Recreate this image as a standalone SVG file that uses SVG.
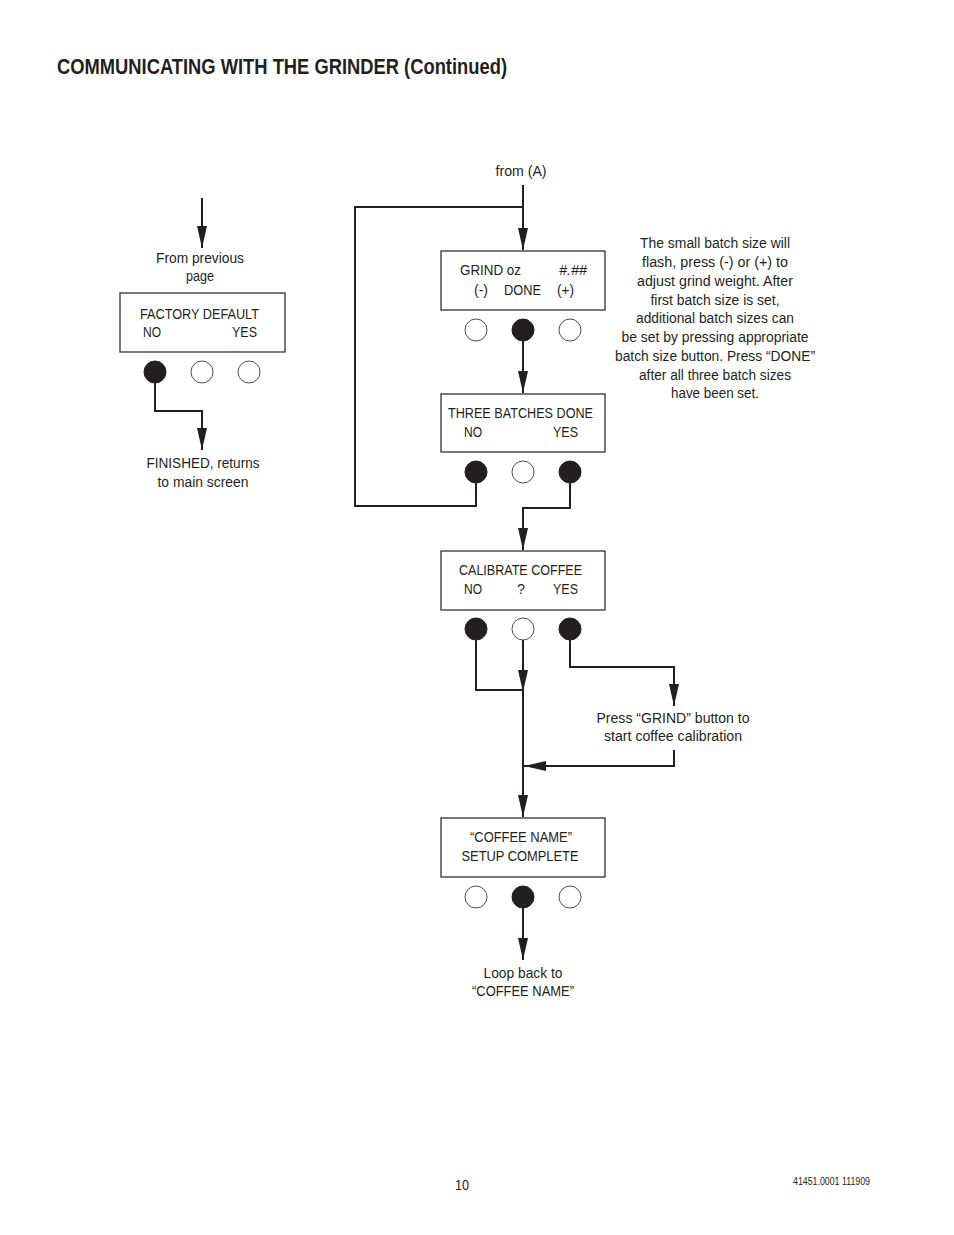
<svg xmlns="http://www.w3.org/2000/svg" width="954" height="1235" viewBox="0 0 954 1235">
<defs>
<style>
text{font-family:"Liberation Sans",Arial,sans-serif;fill:#231f20;font-size:15.5px}
.c{text-anchor:middle}
.box{fill:#fff;stroke:#231f20;stroke-width:1.2}
.on{fill:#231f20;stroke:#231f20;stroke-width:1}
.off{fill:#fff;stroke:#231f20;stroke-width:0.8}
.ln{fill:none;stroke:#231f20;stroke-width:2}
.arr{marker-end:url(#ah)}
</style>
<marker id="ah" markerUnits="userSpaceOnUse" markerWidth="24" markerHeight="12" refX="22" refY="5" orient="auto">
<path d="M0,0 L22,5 L0,10 z" fill="#231f20"/>
</marker>
</defs>
<rect width="954" height="1235" fill="#fff"/>
<text x="57" y="74" style="font-size:21.5px;font-weight:bold" textLength="450" lengthAdjust="spacingAndGlyphs">COMMUNICATING WITH THE GRINDER (Continued)</text>

<g id="connectors">
<path class="ln arr" d="M202,198 V248"/>
<path class="ln arr" d="M155,383 V411 H202 V450"/>
<path class="ln arr" d="M523,185 V250"/>
<path class="ln" d="M523,207 H355 V506 H476 V483"/>
<path class="ln arr" d="M523,341 V393"/>
<path class="ln arr" d="M570,483 V508 H523 V550"/>
<path class="ln" d="M476,640 V690 H523"/>
<path class="ln arr" d="M523,640 V692"/>
<path class="ln arr" d="M523,690 V817"/>
<path class="ln arr" d="M570,640 V667 H674 V706"/>
<path class="ln arr" d="M674,750 V766 H524"/>
<path class="ln arr" d="M523,908 V960"/>
</g>

<g id="from-previous">
<text class="c" x="200" y="263" textLength="88" lengthAdjust="spacingAndGlyphs">From previous</text>
<text class="c" x="200" y="281" textLength="28" lengthAdjust="spacingAndGlyphs">page</text>
</g>

<g id="factory-default">
<rect class="box" x="120" y="293" width="165" height="59"/>
<text x="140" y="319" textLength="119" lengthAdjust="spacingAndGlyphs">FACTORY DEFAULT</text>
<text x="143" y="337" textLength="18" lengthAdjust="spacingAndGlyphs">NO</text>
<text x="232" y="337" textLength="25" lengthAdjust="spacingAndGlyphs">YES</text>
<circle class="on" cx="155" cy="372" r="11"/>
<circle class="off" cx="202" cy="372" r="11"/>
<circle class="off" cx="249" cy="372" r="11"/>
</g>

<g id="finished">
<text class="c" x="203" y="468" textLength="113" lengthAdjust="spacingAndGlyphs">FINISHED, returns</text>
<text class="c" x="203" y="487" textLength="91" lengthAdjust="spacingAndGlyphs">to main screen</text>
</g>

<g id="from-a">
<text class="c" x="521" y="176" textLength="51" lengthAdjust="spacingAndGlyphs">from (A)</text>
</g>

<g id="grind-oz">
<rect class="box" x="441" y="251" width="164" height="59"/>
<text x="460" y="275" textLength="61" lengthAdjust="spacingAndGlyphs">GRIND oz</text>
<text x="559" y="275" style="font-style:italic" textLength="28" lengthAdjust="spacingAndGlyphs">#.##</text>
<text x="474" y="295" textLength="14" lengthAdjust="spacingAndGlyphs">(-)</text>
<text x="504" y="295" textLength="37" lengthAdjust="spacingAndGlyphs">DONE</text>
<text x="557" y="295" textLength="17" lengthAdjust="spacingAndGlyphs">(+)</text>
<circle class="off" cx="476" cy="330" r="11"/>
<circle class="on" cx="523" cy="330" r="11"/>
<circle class="off" cx="570" cy="330" r="11"/>
</g>

<g id="note">
<text class="c" x="715" y="248" textLength="150" lengthAdjust="spacingAndGlyphs">The small batch size will</text>
<text class="c" x="715" y="267" textLength="146" lengthAdjust="spacingAndGlyphs">flash, press (-) or (+) to</text>
<text class="c" x="715" y="286" textLength="156" lengthAdjust="spacingAndGlyphs">adjust grind weight. After</text>
<text class="c" x="715" y="305" textLength="129" lengthAdjust="spacingAndGlyphs">first batch size is set,</text>
<text class="c" x="715" y="323" textLength="158" lengthAdjust="spacingAndGlyphs">additional batch sizes can</text>
<text class="c" x="715" y="342" textLength="187" lengthAdjust="spacingAndGlyphs">be set by pressing appropriate</text>
<text class="c" x="715" y="361" textLength="200" lengthAdjust="spacingAndGlyphs">batch size button. Press “DONE”</text>
<text class="c" x="715" y="380" textLength="152" lengthAdjust="spacingAndGlyphs">after all three batch sizes</text>
<text class="c" x="715" y="398" textLength="88" lengthAdjust="spacingAndGlyphs">have been set.</text>
</g>

<g id="three-batches">
<rect class="box" x="441" y="394" width="164" height="58"/>
<text x="448" y="418" textLength="145" lengthAdjust="spacingAndGlyphs">THREE BATCHES DONE</text>
<text x="464" y="437" textLength="18" lengthAdjust="spacingAndGlyphs">NO</text>
<text x="553" y="437" textLength="25" lengthAdjust="spacingAndGlyphs">YES</text>
<circle class="on" cx="476" cy="472" r="11"/>
<circle class="off" cx="523" cy="472" r="11"/>
<circle class="on" cx="570" cy="472" r="11"/>
</g>

<g id="calibrate-coffee">
<rect class="box" x="441" y="551" width="164" height="59"/>
<text x="459" y="575" textLength="123" lengthAdjust="spacingAndGlyphs">CALIBRATE COFFEE</text>
<text x="464" y="594" textLength="18" lengthAdjust="spacingAndGlyphs">NO</text>
<text x="517" y="594" textLength="8" lengthAdjust="spacingAndGlyphs">?</text>
<text x="553" y="594" textLength="25" lengthAdjust="spacingAndGlyphs">YES</text>
<circle class="on" cx="476" cy="629" r="11"/>
<circle class="off" cx="523" cy="629" r="11"/>
<circle class="on" cx="570" cy="629" r="11"/>
</g>

<g id="press-grind">
<text class="c" x="673" y="723" textLength="153" lengthAdjust="spacingAndGlyphs">Press “GRIND” button to</text>
<text class="c" x="673" y="741" textLength="138" lengthAdjust="spacingAndGlyphs">start coffee calibration</text>
</g>

<g id="setup-complete">
<rect class="box" x="441" y="818" width="164" height="59"/>
<text class="c" x="521" y="842" textLength="102" lengthAdjust="spacingAndGlyphs">“COFFEE NAME”</text>
<text class="c" x="520" y="861" textLength="117" lengthAdjust="spacingAndGlyphs">SETUP COMPLETE</text>
<circle class="off" cx="476" cy="897" r="11"/>
<circle class="on" cx="523" cy="897" r="11"/>
<circle class="off" cx="570" cy="897" r="11"/>
</g>

<g id="loop-back">
<text class="c" x="523" y="978" textLength="79" lengthAdjust="spacingAndGlyphs">Loop back to</text>
<text class="c" x="523" y="996" textLength="102" lengthAdjust="spacingAndGlyphs">“COFFEE NAME”</text>
</g>

<text x="455" y="1190" style="font-size:15px" textLength="14" lengthAdjust="spacingAndGlyphs">10</text>
<text x="793" y="1185" style="font-size:10px" textLength="77" lengthAdjust="spacingAndGlyphs">41451.0001  111909</text>
</svg>
